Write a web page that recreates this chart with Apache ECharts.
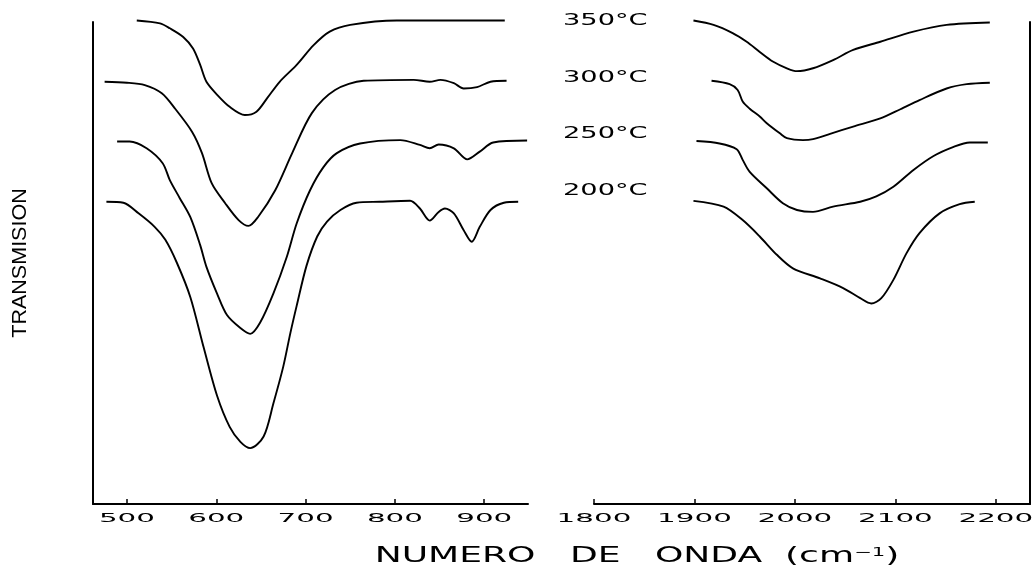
<!DOCTYPE html>
<html>
<head>
<meta charset="utf-8">
<title>Transmision IR</title>
<script src="https://cdn.jsdelivr.net/npm/echarts@6/dist/echarts.min.js"></script>
<style>
  html, body { margin: 0; padding: 0; background: #fff; }
  #chart { width: 1036px; height: 574px; }
</style>
</head>
<body>
<div id="chart"></div>
<script>
// ── Data (wavenumber in cm-1, transmission in arbitrary units, offset per temperature) ──

var temps = ['350°C', '300°C', '250°C', '200°C'];
var ticksLeft = [500, 600, 700, 800, 900];
var ticksRight = [1800, 1900, 2000, 2100, 2200];

// 500-950 cm-1 region
var wnL350 = [511, 537, 548, 563, 574, 582, 589, 601, 615, 632, 645, 657, 671, 690, 709, 727, 750, 802, 923];
var trL350 = [100.3, 99.7, 98.7, 96.9, 94.5, 91.1, 87.6, 84.9, 82.4, 80.7, 81.4, 84.2, 87.6, 91.1, 95.2, 98.0, 99.4, 100.3, 100.3];

var wnL300 = [475, 500, 520, 539, 554, 573, 584, 595, 610, 625, 636, 647, 666, 685, 707, 733, 765, 821, 839, 851, 866, 877, 892, 907, 925];
var trL300 = [87.6, 87.4, 86.9, 85.2, 82.0, 77.2, 72.8, 66.5, 62.4, 58.9, 57.7, 59.6, 65.1, 72.8, 81.1, 85.9, 87.8, 88.0, 87.6, 88.0, 87.3, 86.2, 86.5, 87.6, 87.8];

var wnL250 = [489, 503, 522, 540, 548, 559, 571, 582, 589, 601, 612, 627, 638, 649, 664, 679, 690, 705, 720, 735, 761, 806, 828, 839, 849, 866, 881, 895, 910, 948];
var trL250 = [75.2, 75.2, 73.8, 70.7, 67.2, 63.5, 59.5, 53.7, 49.2, 43.6, 39.2, 36.5, 35.3, 37.6, 43.7, 51.3, 58.2, 65.1, 69.9, 72.8, 74.8, 75.5, 74.5, 73.8, 74.6, 73.8, 71.5, 73.1, 75.0, 75.4];

var wnL200 = [477, 496, 513, 531, 543, 556, 571, 586, 601, 615, 627, 638, 653, 664, 675, 683, 690, 701, 713, 724, 739, 757, 783, 817, 828, 839, 849, 856, 866, 877, 886, 895, 907, 922, 938];
var trL200 = [62.7, 62.5, 60.3, 57.5, 54.8, 50.0, 42.9, 32.4, 22.4, 16.0, 12.9, 11.6, 14.0, 20.9, 28.5, 35.5, 41.1, 49.4, 55.5, 58.6, 61.0, 62.5, 62.7, 62.9, 61.3, 58.8, 60.6, 61.3, 60.3, 56.8, 54.4, 57.5, 61.0, 62.5, 62.7];

// 1800-2230 cm-1 region
var wnR350 = [1899, 1919, 1938, 1952, 1965, 1978, 1992, 2002, 2018, 2038, 2058, 2085, 2118, 2151, 2194];
var trR350 = [100.3, 99.4, 97.7, 95.9, 93.8, 91.8, 90.4, 89.8, 90.4, 92.1, 94.2, 95.9, 98.0, 99.4, 99.9];

var wnR300 = [1917, 1935, 1943, 1948, 1955, 1965, 1972, 1985, 1992, 2008, 2018, 2035, 2058, 2085, 2105, 2124, 2151, 2171, 2194];
var trR300 = [87.8, 87.1, 85.9, 83.5, 82.0, 80.4, 79.0, 76.9, 75.9, 75.5, 75.7, 76.8, 78.3, 80.0, 81.9, 83.8, 86.2, 87.1, 87.4];

var wnR250 = [1902, 1925, 1942, 1948, 1955, 1972, 1988, 2002, 2018, 2038, 2065, 2081, 2098, 2118, 2138, 2158, 2174, 2192];
var trR250 = [75.3, 74.8, 73.6, 71.4, 68.9, 65.5, 62.4, 61.0, 60.6, 61.7, 62.7, 63.8, 65.8, 69.3, 72.2, 74.1, 75.0, 75.0];

var wnR200 = [1899, 1929, 1948, 1965, 1982, 1998, 2025, 2048, 2065, 2076, 2086, 2098, 2111, 2124, 2144, 2164, 2179];
var trR200 = [62.9, 61.7, 58.9, 55.5, 51.7, 48.9, 46.8, 44.8, 42.7, 41.6, 42.7, 46.5, 52.0, 56.2, 60.3, 62.2, 62.7];

(function () {
  'use strict';

  var INK = '#000';
  var PLOT_FONT = 'DejaVu Sans';

  function pairs(xs, ys) {
    return xs.map(function (x, i) { return [x, ys[i]]; });
  }

  function spectrum(name, idx, xs, ys) {
    return {
      type: 'line',
      name: name,
      xAxisIndex: idx,
      yAxisIndex: idx,
      data: pairs(xs, ys),
      smooth: 0.3,
      symbol: 'none',
      clip: false,
      silent: true,
      lineStyle: { color: INK, width: 1.9 },
    };
  }

  function xAxisFor(idx, min, max, ticks) {
    return {
      gridIndex: idx,
      type: 'value',
      min: min,
      max: max,
      axisLine: { show: true, onZero: false, lineStyle: { color: INK, width: 2 } },
      axisTick: { show: true, inside: true, length: 5, customValues: ticks, lineStyle: { color: INK, width: 1.5 } },
      axisLabel: { show: false },
      splitLine: { show: false },
    };
  }

  function yAxisFor(idx, pos) {
    return {
      gridIndex: idx,
      type: 'value',
      position: pos,
      min: 0,
      max: 100,
      axisLine: { show: true, lineStyle: { color: INK, width: 2 } },
      axisTick: { show: false },
      axisLabel: { show: false },
      splitLine: { show: false },
    };
  }

  var chart = echarts.init(document.getElementById('chart'), null, { renderer: 'canvas' });

  chart.setOption({
    animation: false,
    backgroundColor: '#fff',
    grid: [
      { left: 93, top: 22, width: 435, height: 482 },
      { left: 594, top: 22, width: 436, height: 482 },
    ],
    xAxis: [xAxisFor(0, 462, 949, ticksLeft), xAxisFor(1, 1800, 2234, ticksRight)],
    yAxis: [yAxisFor(0, 'left'), yAxisFor(1, 'right')],
    series: [
      spectrum(temps[0], 0, wnL350, trL350),
      spectrum(temps[1], 0, wnL300, trL300),
      spectrum(temps[2], 0, wnL250, trL250),
      spectrum(temps[3], 0, wnL200, trL200),
      spectrum(temps[0], 1, wnR350, trR350),
      spectrum(temps[1], 1, wnR300, trR300),
      spectrum(temps[2], 1, wnR250, trR250),
      spectrum(temps[3], 1, wnR200, trR200),
    ],
  });

  // wide plotter-style lettering: stretched text, tick labels placed from the axis scales
  function wideText(x, y, text, opts) {
    var style = {
      text: text,
      fill: INK,
      fontFamily: opts.family || PLOT_FONT,
      fontSize: opts.size,
      align: opts.align,
      textAlign: opts.align,
      verticalAlign: 'middle',
      textVerticalAlign: 'middle',
    };
    if (opts.rich) style.rich = opts.rich;
    return {
      type: 'text', x: x, y: y,
      rotation: opts.rotation || 0,
      scaleX: opts.stretch, scaleY: 1,
      silent: true,
      style: style,
    };
  }

  var graphics = [];
  var tickY = 518.5;
  var tickOpts = { size: 12.5, stretch: 2.35, align: 'center' };
  ticksLeft.forEach(function (v) {
    graphics.push(wideText(chart.convertToPixel({ xAxisIndex: 0 }, v), tickY, String(v), tickOpts));
  });
  ticksRight.forEach(function (v) {
    graphics.push(wideText(chart.convertToPixel({ xAxisIndex: 1 }, v), tickY, String(v), tickOpts));
  });

  var labelY = [20.8, 77.5, 134, 191];
  temps.forEach(function (t, i) {
    graphics.push(wideText(563, labelY[i], t, { size: 16.5, stretch: 1.65, align: 'left' }));
  });

  graphics.push(wideText(637, 557, 'NUMERO   DE   ONDA  (cm{sup|\u22121})', {
    size: 20.5, stretch: 1.76, align: 'center',
    rich: { sup: { fontSize: 12, fontFamily: PLOT_FONT, fill: INK, verticalAlign: 'top' } },
  }));

  graphics.push(wideText(20, 263, 'TRANSMISION', {
    size: 20.5, stretch: 1.05, align: 'center', rotation: Math.PI / 2, family: 'Liberation Sans',
  }));

  chart.setOption({ graphic: graphics });
})();
</script>
</body>
</html>
